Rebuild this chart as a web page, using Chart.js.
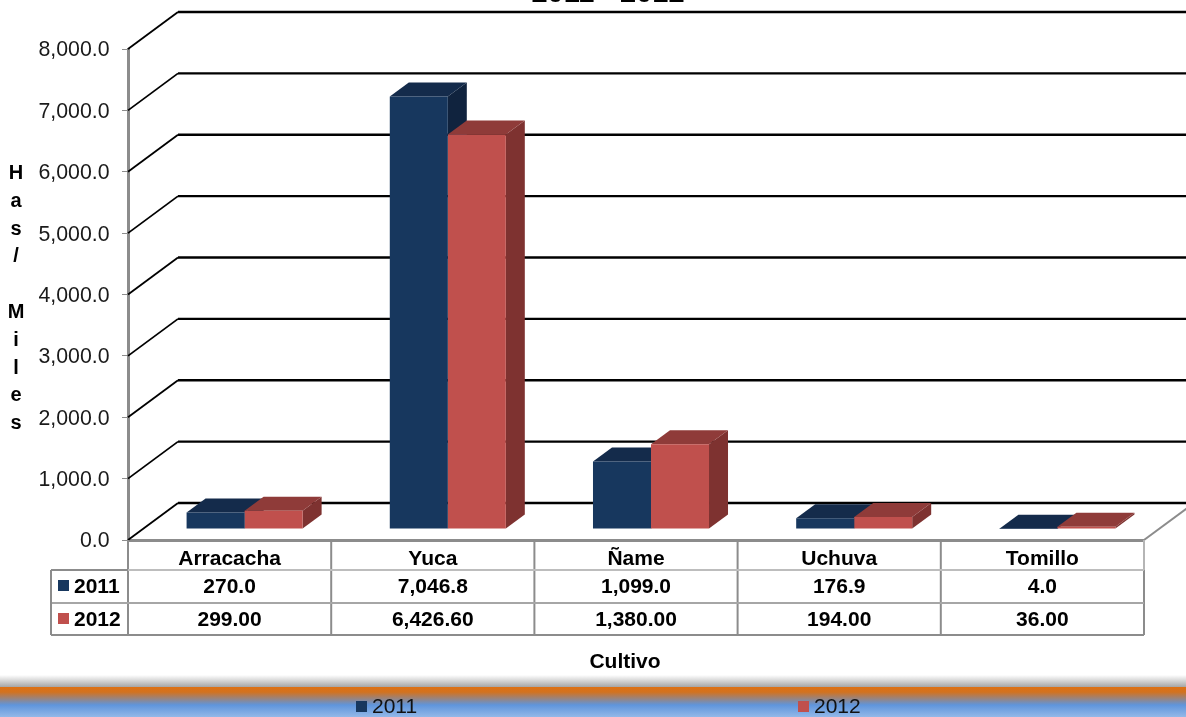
<!DOCTYPE html>
<html lang="es">
<head>
<meta charset="utf-8">
<title>Cultivo 2011 - 2012</title>
<style>
  html, body { margin: 0; padding: 0; background: #fff; overflow: hidden; }
  canvas { display: block; }
</style>
</head>
<body>
<canvas id="chart" width="1186" height="717"></canvas>
<script src="https://cdn.jsdelivr.net/npm/chart.js@4"></script>
<script>
// --- DATOS ---
const categorias = ['Arracacha', 'Yuca', 'Ñame', 'Uchuva', 'Tomillo'];
const valores2011 = [270.0, 7046.8, 1099.0, 176.9, 4.0];
const valores2012 = [299.0, 6426.6, 1380.0, 194.0, 36.0];
const series = ['2011', '2012'];
const decimales = [1, 2];
const tituloY = ['H', 'a', 's', '/', '', 'M', 'i', 'l', 'e', 's'];

const colores = [
    { frente: '#17375E', techo: '#142B4B', lado: '#10233E' },
    { frente: '#C0504D', techo: '#8F3B39', lado: '#7E3230' }
];
const GRIS = '#8C8C8C';
const FUENTE = '"Liberation Sans", Arial, sans-serif';

// profundidad de la pared del fondo y de las barras
const PARED = { dx: 50, dy: -37 };
const BARRA = { dx: 19, dy: -14 };
const DESPLAZA = { dx: 15, dy: -11 };

const fmt = (v, d) => v.toLocaleString('en-US', { minimumFractionDigits: d, maximumFractionDigits: d });

function poly(ctx, color, pts) {
    ctx.fillStyle = color;
    ctx.beginPath();
    pts.forEach((p, i) => i ? ctx.lineTo(p[0], p[1]) : ctx.moveTo(p[0], p[1]));
    ctx.closePath();
    ctx.fill();
}

function linea(ctx, color, ancho, pts) {
    ctx.strokeStyle = color;
    ctx.lineWidth = ancho;
    ctx.beginPath();
    pts.forEach((p, i) => i ? ctx.lineTo(p[0], p[1]) : ctx.moveTo(p[0], p[1]));
    ctx.stroke();
}

// --- FONDO Y BANDA INFERIOR ---
const banda = {
    id: 'banda',
    beforeDraw(chart) {
        const ctx = chart.ctx;
        let g = ctx.createLinearGradient(0, 675, 0, 687);
        g.addColorStop(0, '#FFFFFF');
        g.addColorStop(1, '#A6A6A6');
        ctx.fillStyle = g;
        ctx.fillRect(0, 675, chart.width, 12);
        g = ctx.createLinearGradient(0, 687, 0, 717);
        g.addColorStop(0, '#DD7115');
        g.addColorStop(0.17, '#D2721F');
        g.addColorStop(0.6, '#5F95DC');
        g.addColorStop(1, '#93B8E8');
        ctx.fillStyle = g;
        ctx.fillRect(0, 687, chart.width, 30);
    }
};

// --- PARED DEL FONDO Y CARAS 3D ---
const caras3d = {
    id: 'caras3d',
    beforeDatasetsDraw(chart) {
        const ctx = chart.ctx;
        const { left, right, bottom } = chart.chartArea;
        const y = chart.scales.y;

        y.ticks.forEach(t => {
            const py = y.getPixelForValue(t.value);
            linea(ctx, '#000', 1.8, [[left, py], [left + PARED.dx, py + PARED.dy]]);
            linea(ctx, '#000', 2.4, [[left + PARED.dx, py + PARED.dy], [chart.width, py + PARED.dy]]);
        });
        linea(ctx, GRIS, 2, [[right, bottom], [right + PARED.dx, bottom + PARED.dy]]);

        ctx.save();
        ctx.translate(DESPLAZA.dx, DESPLAZA.dy);
        chart.data.datasets.forEach((ds, i) => {
            chart.getDatasetMeta(i).data.forEach(bar => {
                const x0 = bar.x - bar.width / 2, x1 = bar.x + bar.width / 2;
                const dx = BARRA.dx, dy = BARRA.dy;
                poly(ctx, colores[i].lado, [[x1, bar.y], [x1 + dx, bar.y + dy], [x1 + dx, bar.base + dy], [x1, bar.base]]);
                poly(ctx, colores[i].techo, [[x0, bar.y], [x0 + dx, bar.y + dy], [x1 + dx, bar.y + dy], [x1, bar.y]]);
            });
        });
        // las caras frontales las dibuja Chart.js con este mismo desplazamiento
    },
    afterDatasetsDraw(chart) {
        chart.ctx.restore();
    }
};

// --- TABLA DE DATOS, TITULOS Y LEYENDA ---
const tabla = {
    id: 'tabla',
    afterDraw(chart) {
        const ctx = chart.ctx;
        const { left, right, bottom } = chart.chartArea;
        const x = chart.scales.x;
        const y = chart.scales.y;
        const ancho = (right - left) / categorias.length;
        const filas = [570, 603, 635];
        const izq = 51;

        // etiquetas del eje Y
        ctx.font = '21.3px ' + FUENTE;
        ctx.fillStyle = '#1A1A1A';
        ctx.textAlign = 'right';
        ctx.textBaseline = 'middle';
        y.ticks.forEach(t => ctx.fillText(fmt(t.value, 1), 109.5, y.getPixelForValue(t.value) + 1.5));

        // lineas
        for (let i = 0; i <= categorias.length; i++) {
            const px = left + i * ancho;
            linea(ctx, i === categorias.length ? '#B5B5B5' : GRIS, 2, [[px, bottom], [px, filas[0]]]);
            linea(ctx, GRIS, 2, [[px, filas[0]], [px, filas[2]]]);
        }
        linea(ctx, '#BDBDBD', 2, [[left, filas[0]], [right, filas[0]]]);
        linea(ctx, GRIS, 2, [[izq, filas[0]], [left, filas[0]]]);
        linea(ctx, '#A6A6A6', 2, [[izq, filas[1]], [right, filas[1]]]);
        linea(ctx, GRIS, 2, [[izq, filas[2]], [right, filas[2]]]);
        linea(ctx, GRIS, 2, [[izq, filas[0]], [izq, filas[2]]]);

        ctx.textBaseline = 'alphabetic';
        ctx.font = 'bold 21px ' + FUENTE;
        [valores2011, valores2012].forEach((vals, f) => {
            const base = filas[f] + 23;
            ctx.fillStyle = colores[f].frente;
            ctx.fillRect(58, filas[f] + 10, 11, 11);
            ctx.fillStyle = '#000';
            ctx.textAlign = 'left';
            ctx.fillText(series[f], 74, base);
            ctx.textAlign = 'center';
            vals.forEach((v, i) => ctx.fillText(fmt(v, decimales[f]), x.getPixelForValue(i), base));
        });

        // titulos
        ctx.textAlign = 'center';
        ctx.fillText('Cultivo', 625, 668);
        ctx.font = 'bold 29px ' + FUENTE;
        ctx.fillText('2011 - 2012', 608, 2);
        ctx.font = 'bold 20px ' + FUENTE;
        tituloY.forEach((letra, i) => ctx.fillText(letra, 16, 179 + i * 27.8));

        // leyenda
        ctx.font = '21px ' + FUENTE;
        ctx.textAlign = 'left';
        [356, 798].forEach((px, i) => {
            ctx.fillStyle = colores[i].frente;
            ctx.fillRect(px, 701, 11, 11);
            ctx.fillStyle = '#111';
            ctx.fillText(series[i], px + 16, 713);
        });
    }
};

new Chart(document.getElementById('chart').getContext('2d'), {
    type: 'bar',
    data: {
        labels: categorias,
        datasets: [valores2011, valores2012].map((vals, i) => ({
            label: series[i],
            data: vals,
            backgroundColor: colores[i].frente,
            borderWidth: 0,
            categoryPercentage: 0.571,
            barPercentage: 1,
            clip: false
        }))
    },
    options: {
        responsive: false,
        animation: false,
        layout: { padding: { left: 0, top: 49, right: 42, bottom: 0 } },
        plugins: { legend: { display: false }, title: { display: false }, tooltip: { enabled: false } },
        scales: {
            x: {
                afterFit: s => { s.height = 177; },
                grid: { display: false, drawTicks: false },
                border: { color: GRIS, width: 3 },
                ticks: {
                    color: '#000',
                    padding: 7,
                    maxRotation: 0,
                    font: { family: FUENTE, size: 21, weight: 'bold' }
                }
            },
            y: {
                min: 0,
                max: 8000,
                afterFit: s => { s.width = 128; },
                grid: { drawOnChartArea: false, color: GRIS, tickLength: 6 },
                border: { color: GRIS, width: 3 },
                // las etiquetas se dibujan en el plugin, 1.5 px mas abajo
                ticks: { stepSize: 1000, display: false }
            }
        }
    },
    plugins: [banda, caras3d, tabla]
});
</script>
</body>
</html>
